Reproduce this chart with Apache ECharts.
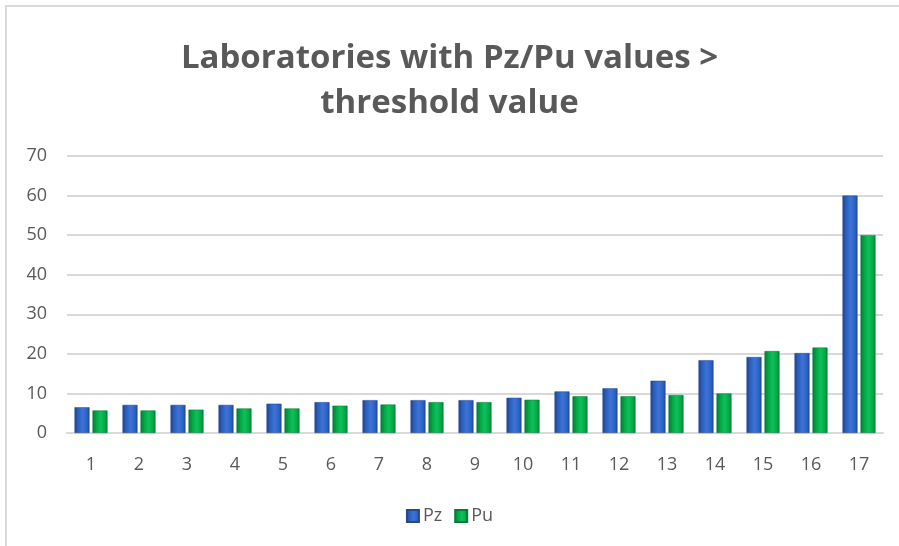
<!DOCTYPE html>
<html>
<head>
<meta charset="utf-8">
<script src="https://cdn.jsdelivr.net/npm/echarts@6/dist/echarts.min.js"></script>
<style>
html,body{margin:0;padding:0;background:#fff;}
#chart{width:899px;height:546px;}
</style>
</head>
<body>
<div id="chart"></div>
<script>
const categories = ['1','2','3','4','5','6','7','8','9','10','11','12','13','14','15','16','17'];
const pzValues = [6.5, 7.1, 7.1, 7.1, 7.4, 7.8, 8.3, 8.3, 8.3, 8.9, 10.5, 11.3, 13.2, 18.4, 19.2, 20.2, 60];
const puValues = [5.7, 5.7, 5.9, 6.2, 6.2, 6.9, 7.2, 7.8, 7.8, 8.4, 9.3, 9.3, 9.6, 10.0, 20.7, 21.6, 50];
const seriesNames = ['Pz', 'Pu'];
const titleText = 'Laboratories with Pz/Pu values >\nthreshold value';

const FONT = 'Open Sans';
const textColor = '#595959';

function grad(dark, mid, light) {
  return new echarts.graphic.LinearGradient(0, 0, 1, 0, [
    {offset: 0, color: dark},
    {offset: 0.25, color: mid},
    {offset: 0.55, color: light},
    {offset: 0.85, color: mid},
    {offset: 1, color: dark}
  ]);
}

const chart = echarts.init(document.getElementById('chart'), null, {renderer: 'canvas'});
chart.setOption({
  backgroundColor: '#fff',
  animation: false,
  graphic: [{
    type: 'rect',
    shape: {x: 6, y: 6, width: 1000, height: 1000},
    style: {fill: 'none', stroke: '#d9d9d9', lineWidth: 2},
    silent: true
  }],
  title: {
    text: titleText,
    left: 'center',
    top: 31,
    textStyle: {
      fontFamily: FONT,
      fontWeight: 'bold',
      fontSize: 33,
      lineHeight: 45,
      color: textColor
    }
  },
  legend: {
    data: seriesNames,
    top: 502,
    left: 'center',
    itemWidth: 12,
    itemHeight: 12,
    itemGap: 12,
    icon: 'rect',
    textStyle: {fontFamily: FONT, fontSize: 18, color: textColor, padding: [0,0,0,-1]}
  },
  grid: {left: 67, right: 16, top: 156, bottom: 113, containLabel: false},
  xAxis: {
    type: 'category',
    data: categories,
    axisLine: {lineStyle: {color: '#d9d9d9', width: 2}},
    axisTick: {show: false},
    axisLabel: {fontFamily: FONT, fontSize: 18, color: textColor, margin: 23}
  },
  yAxis: {
    type: 'value',
    min: 0,
    max: 70,
    interval: 10,
    axisLine: {show: false},
    axisTick: {show: false},
    splitLine: {lineStyle: {color: '#d9d9d9', width: 2}},
    axisLabel: {fontFamily: FONT, fontSize: 18, color: textColor, margin: 20}
  },
  series: [
    {
      name: seriesNames[0],
      type: 'bar',
      data: pzValues,
      barWidth: 15,
      barGap: '20%',
      itemStyle: {color: grad('#1d4490', '#2b5fc0', '#3d74d6'), borderColor: '#25498c', borderWidth: 0.5}
    },
    {
      name: seriesNames[1],
      type: 'bar',
      data: puValues,
      barWidth: 15,
      itemStyle: {color: grad('#007a33', '#00a645', '#10c05a'), borderColor: '#0a7a3a', borderWidth: 0.5}
    }
  ]
});
</script>
</body>
</html>
